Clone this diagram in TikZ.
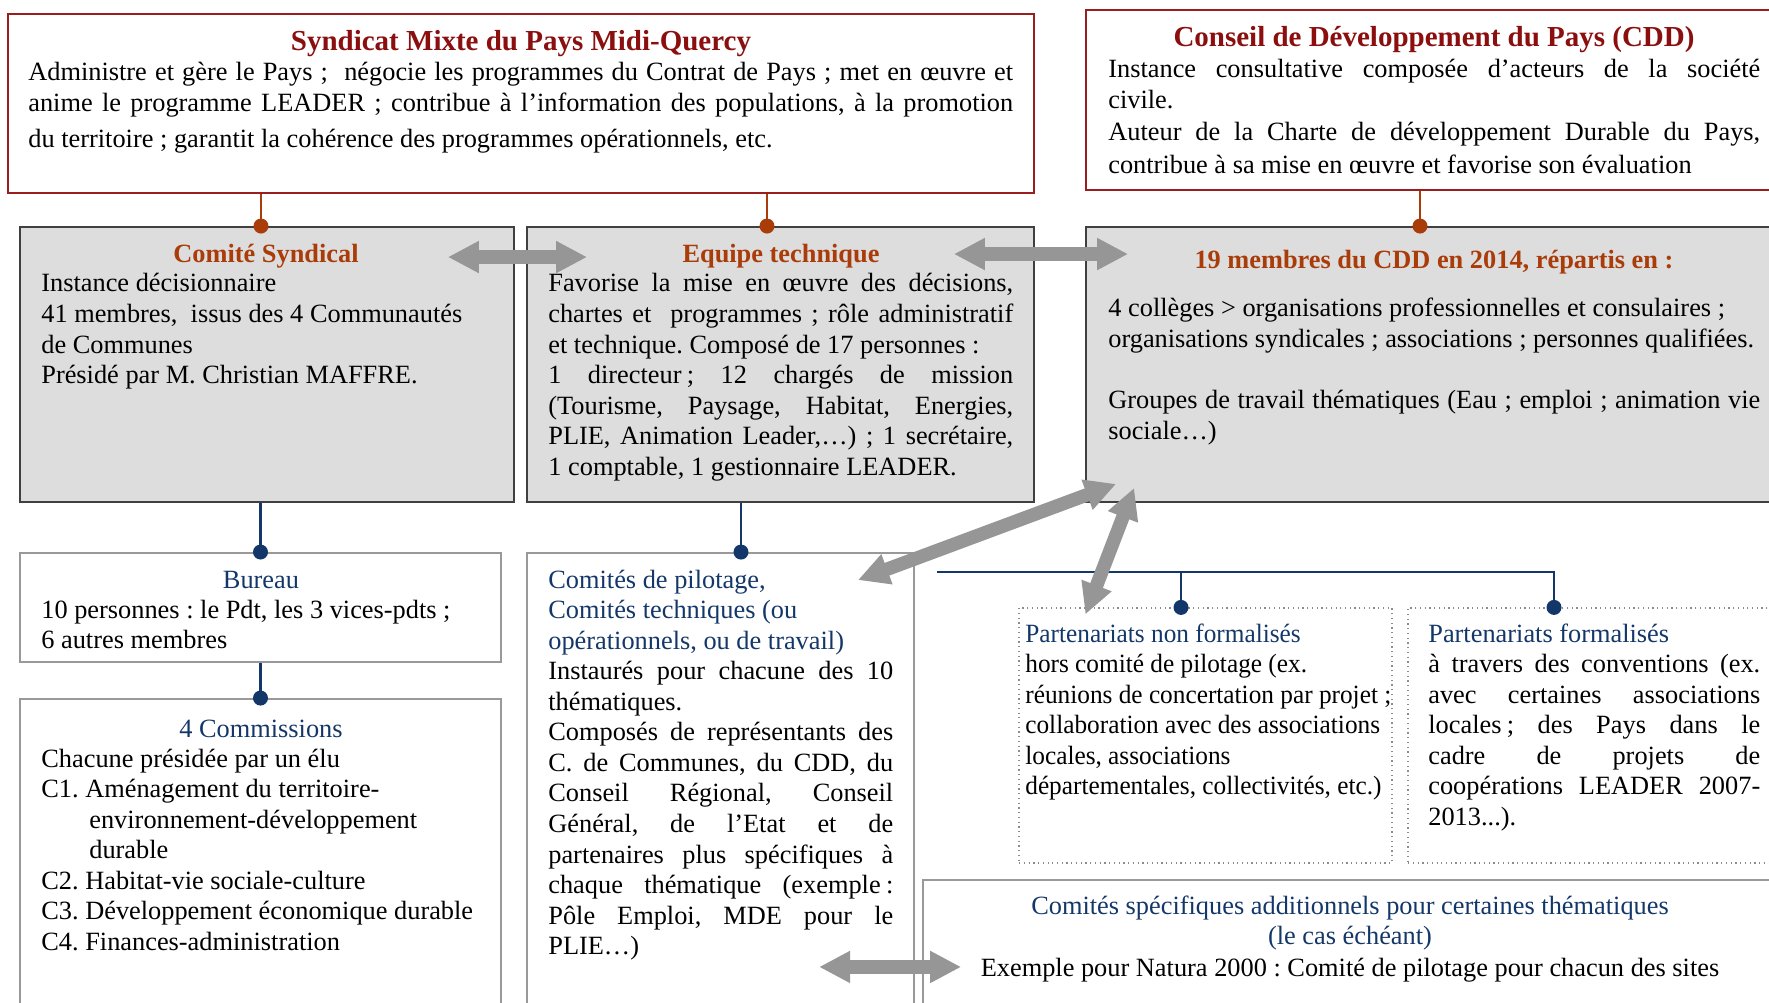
\documentclass[tikz,border=0pt]{standalone}
\usepackage{fontspec}
\setmainfont{Liberation Serif}
\newfontfamily\condfont[FakeStretch=0.96]{Liberation Serif}
\usepackage{xcolor}
\usetikzlibrary{arrows.meta,positioning,calc}
\definecolor{rd}{RGB}{140,15,15}
\definecolor{rdb}{RGB}{155,30,30}
\definecolor{ro}{RGB}{170,60,10}
\definecolor{bl}{RGB}{20,55,105}
\definecolor{gb}{RGB}{221,221,221}
\definecolor{gr}{RGB}{150,150,150}
\newcommand{\RD}[1]{\textcolor{rd}{#1}}
\newcommand{\RO}[1]{\textcolor{ro}{#1}}
\newcommand{\BL}[1]{\textcolor{bl}{#1}}
\newlength{\jw}
\newcommand{\JU}[1]{\makebox[\jw][s]{#1}}
\newcommand{\txtfont}{\fontsize{15pt}{17.4pt}\selectfont}
\newcommand{\ncfont}{\condfont\fontsize{15pt}{17.4pt}\selectfont}
\newcommand{\bigfont}{\fontsize{16.5pt}{18pt}\selectfont\bfseries}

\begin{document}
\frenchspacing
\begin{tikzpicture}[x=0.02cm,y=-0.02cm,
  redbox/.style={draw=rdb,line width=1.4pt,minimum height=3.6cm},
  graybox/.style={draw=black!75,fill=gb,line width=1.1pt,minimum height=5.5cm},
  ltbox/.style={draw=black!40,line width=1.1pt},
  dotbox/.style={draw=black!45,dotted,line width=0.7pt,minimum height=5.1cm},
  txt/.style={anchor=base west,inner sep=0pt,align=flush left,font=\txtfont},
  ttl/.style={anchor=base,inner sep=0pt,font=\txtfont\bfseries},
  jw/.code={\setlength{\jw}{#1}},
  tw/.style={text width=#1,jw=#1},
  roln/.style={ro,line width=1.3pt},
  blln/.style={bl,line width=1.3pt},
  garrow/.style={gr,line width=0.27cm,{Triangle[width=0.6cm,length=0.62cm]}-{Triangle[width=0.6cm,length=0.62cm]}}]
  \useasboundingbox (0,0) rectangle (1769,1003);
  \clip (0,0) rectangle (1769,1003);

  % top
  \node[redbox,minimum width=20.52cm,minimum height=3.58cm] (smpmq) at (521,103.5) {};
  \node[redbox,minimum width=14.08cm] (cddtop) at (1438,100) {};

  % grey row
  \node[graybox,minimum width=9.88cm] (comite) at (267,364.5) {};
  \node[graybox,minimum width=10.14cm] (equipe) at (780.5,364.5) {};
  \node[graybox,minimum width=14.08cm] (cdd) at (1438,364.5) {};

  % lower boxes
  \node[ltbox,minimum width=9.62cm,minimum height=2.18cm] (bureau) at (260.5,607.5) {};
  \node[ltbox,minimum width=9.62cm,minimum height=6.32cm] (commis) at (260.5,857) {};
  \node[ltbox,minimum width=7.74cm,minimum height=9.24cm] (pilot) at (720.5,784) {};
  \node[dotbox,minimum width=7.46cm] (nonform) at (1205.5,735.5) {};
  \node[dotbox,minimum width=7.64cm] (form) at (1599,735.5) {};
  \node[ltbox,minimum width=17.34cm,minimum height=2.7cm] (specif) at (1356.5,947.5) {};

  % red links
  \coordinate (d1) at ([xshift=-0.12cm]comite.north);
  \coordinate (d2) at ([xshift=-0.27cm]equipe.north);
  \coordinate (d3) at ([xshift=-0.36cm]cdd.north);
  \draw[roln] (smpmq.south -| d1) -- (d1);
  \draw[roln] (smpmq.south -| d2) -- (d2);
  \draw[roln] (cddtop.south -| d3) -- (d3);
  \fill[ro] (d1) circle (0.15cm);
  \fill[ro] (d2) circle (0.15cm);
  \fill[ro] (d3) circle (0.15cm);

  % blue links
  \coordinate (d4) at (bureau.north);
  \coordinate (d5) at (commis.north);
  \coordinate (d6) at ([xshift=0.41cm]pilot.north);
  \coordinate (d7) at ([xshift=-0.49cm]nonform.north);
  \coordinate (d8) at ([xshift=-0.9cm]form.north);
  \coordinate (brk) at (937,572);
  \draw[blln] (comite.south -| d4) -- (d4);
  \draw[blln] (bureau.south) -- (d5);
  \draw[blln] (equipe.south -| d6) -- (d6);
  \draw[blln] (brk) -| (d8);
  \draw[blln] (brk -| d7) -- (d7);
  \fill[bl] (d4) circle (0.15cm);
  \fill[bl] (d5) circle (0.15cm);
  \fill[bl] (d6) circle (0.15cm);
  \fill[bl] (d7) circle (0.15cm);
  \fill[bl] (d8) circle (0.15cm);

  % texts
  \node[ttl,font=\bigfont] (smpmq-t) at (521,51) {\RD{Syndicat Mixte du Pays Midi-Quercy}};
  \node[txt,tw=19.7cm] (smpmq-b) at (28,81) {\JU{Administre et gère le Pays ;\ \ négocie les programmes du Contrat de Pays ; met en œuvre et}\\ \JU{anime le programme LEADER ; contribue à l’information des populations, à la promotion}\\[3pt] du territoire ; garantit la cohérence des programmes opérationnels, etc.};

  \node[ttl,font=\bigfont] (cddtop-t) at (1434,47) {\RD{Conseil de Développement du Pays (CDD)}};
  \node[txt,tw=13.04cm] (cddtop-b) at (1108,78) {\JU{Instance consultative composée d’acteurs de la société}\\ civile.\\[1pt] \JU{Auteur de la Charte de développement Durable du Pays,}\\[1pt] contribue à sa mise en œuvre et favorise son évaluation};

  \node[ttl] (comite-t) at (266,263) {\RO{Comité Syndical}};
  \node[txt,tw=9.3cm] (comite-b) at (41,292) {Instance décisionnaire\\ 41 membres,\ \ issus des 4 Communautés\\ de Communes\\ Présidé par M. Christian MAFFRE.};

  \node[ttl] (equipe-t) at (781,263) {\RO{Equipe technique}};
  \node[txt,tw=9.3cm] (equipe-b) at (548,292) {\JU{Favorise la mise en œuvre des décisions,}\\ \JU{chartes et\ \ programmes ; rôle administratif}\\ et technique. Composé de 17 personnes :\\ \JU{1 directeur\kern.2em; 12 chargés de mission}\\ \JU{(Tourisme, Paysage, Habitat, Energies,}\\ \JU{PLIE, Animation Leader,…) ; 1 secrétaire,}\\ 1 comptable, 1 gestionnaire LEADER.};

  \node[ttl] (cdd-t) at (1434,269) {\RO{19 membres du CDD en 2014, répartis en :}};
  \node[txt,text width=14cm,jw=13.04cm] (cdd-b) at (1108,317) {4 collèges > organisations professionnelles et consulaires ;\\ organisations syndicales ; associations ; personnes qualifiées.\\[17.4pt] \JU{Groupes de travail thématiques (Eau ; emploi ; animation vie}\\ sociale…)};

  \node[ttl,font=\txtfont] (bureau-t) at (261,588) {\BL{Bureau}};
  \node[txt,tw=9cm] (bureau-b) at (41,618) {10 personnes : le Pdt, les 3 vices-pdts ;\\ 6 autres membres};

  \node[ttl,font=\txtfont] (commis-t) at (261,737) {\BL{4 Commissions}};
  \node[txt,tw=9cm] (commis-b) at (41,767) {Chacune présidée par un élu\\ C1. Aménagement du territoire-\\ \hspace*{0.96cm}environnement-développement\\ \hspace*{0.96cm}durable\\ C2. Habitat-vie sociale-culture\\ C3. Développement économique durable\\ C4. Finances-administration};

  \node[txt,tw=6.9cm] (pilot-b) at (548,588) {\BL{Comités de pilotage,}\\ \BL{Comités techniques (ou}\\ \BL{opérationnels, ou de travail)}\\ \JU{Instaurés pour chacune des 10}\\ thématiques.\\ \JU{Composés de représentants des}\\ \JU{C. de Communes, du CDD, du}\\ \JU{Conseil Régional, Conseil}\\ \JU{Général, de l’Etat et de}\\ \JU{partenaires plus spécifiques à}\\ \JU{chaque thématique (exemple\kern.2em:}\\ \JU{Pôle Emploi, MDE pour le}\\ PLIE…)};

  \node[txt,text width=8cm,font=\ncfont] (nonform-b) at (1025,642) {\BL{Partenariats non formalisés}\\ hors comité de pilotage (ex.\\ réunions de concertation par projet ;\\ collaboration avec des associations\\ locales, associations\\ départementales, collectivités, etc.)};

  \node[txt,tw=6.64cm] (form-b) at (1428,642) {\BL{Partenariats formalisés}\\ \JU{à travers des conventions (ex.}\\ \JU{avec certaines associations}\\ \JU{locales\kern.2em; des Pays dans le}\\ \JU{cadre de projets de}\\ \JU{coopérations LEADER 2007-}\\ 2013...).};

  \node[txt,anchor=base,text width=17cm,align=flush center] (specif-t) at (1350,914) {\BL{Comités spécifiques additionnels pour certaines thématiques}\\ \BL{(le cas échéant)}\\[1pt] Exemple pour Natura 2000 : Comité de pilotage pour chacun des sites};

  % grey arrows
  \draw[garrow] ($(comite.north east)+(-67,31)$) -- ($(equipe.north west)+(61,31)$);
  \draw[garrow] ($(equipe.north east)+(-81,28)$) -- ($(cdd.north west)+(43,28)$);
  \draw[garrow] ($(pilot.north east)+(-57,28)$) -- ($(cdd.south west)+(31,-19)$);
  \draw[garrow] ($(nonform.north west)+(67,7)$) -- ($(cdd.south west)+(49,-15)$);
  \draw[garrow] ($(specif.south west)+(-103,-49)$) -- ($(specif.south west)+(39,-49)$);
\end{tikzpicture}
\end{document}
